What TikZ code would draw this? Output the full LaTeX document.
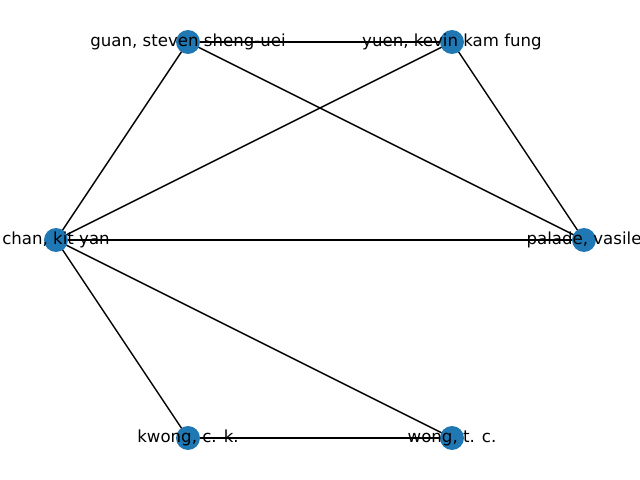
\documentclass[tikz,border=0pt]{standalone}
\usepackage{fontspec}
\setmainfont{DejaVu Sans}
\usetikzlibrary{backgrounds}
\definecolor{nxblue}{HTML}{1F77B4}
\tikzset{
  vert/.style={circle,fill=nxblue,draw=none,minimum size=17.3pt,inner sep=0pt},
  lbl/.style={font=\fontsize{12}{14}\selectfont,inner sep=0pt,text=black},
  edge/.style={draw=black,line width=1bp}
}
\begin{document}
\begin{tikzpicture}[x=0.254mm,y=-0.254mm]
\useasboundingbox (0,0) rectangle (640,480);
\node[vert] (guan) at (188,42) {};
\node[vert] (yuen) at (452,42) {};
\node[vert] (chan) at (56,240) {};
\node[vert] (palade) at (584,240) {};
\node[vert] (kwong) at (188,438) {};
\node[vert] (wong) at (452,438) {};
\begin{scope}[on background layer]
\draw[edge] (guan.center) -- (yuen.center);
\draw[edge] (guan.center) -- (chan.center);
\draw[edge] (guan.center) -- (palade.center);
\draw[edge] (yuen.center) -- (chan.center);
\draw[edge] (yuen.center) -- (palade.center);
\draw[edge] (chan.center) -- (palade.center);
\draw[edge] (chan.center) -- (kwong.center);
\draw[edge] (chan.center) -- (wong.center);
\draw[edge] (kwong.center) -- (wong.center);
\end{scope}
\node[lbl] (guanl) at (guan) {guan, steven sheng-uei};
\node[lbl] (yuenl) at (yuen) {yuen, kevin kam fung};
\node[lbl] (chanl) at (chan) {chan, kit yan};
\node[lbl] (paladel) at (palade) {palade, vasile};
\node[lbl] (kwongl) at (kwong) {kwong, c. k.};
\node[lbl] (wongl) at (wong) {wong, t. c.};
\end{tikzpicture}
\end{document}
